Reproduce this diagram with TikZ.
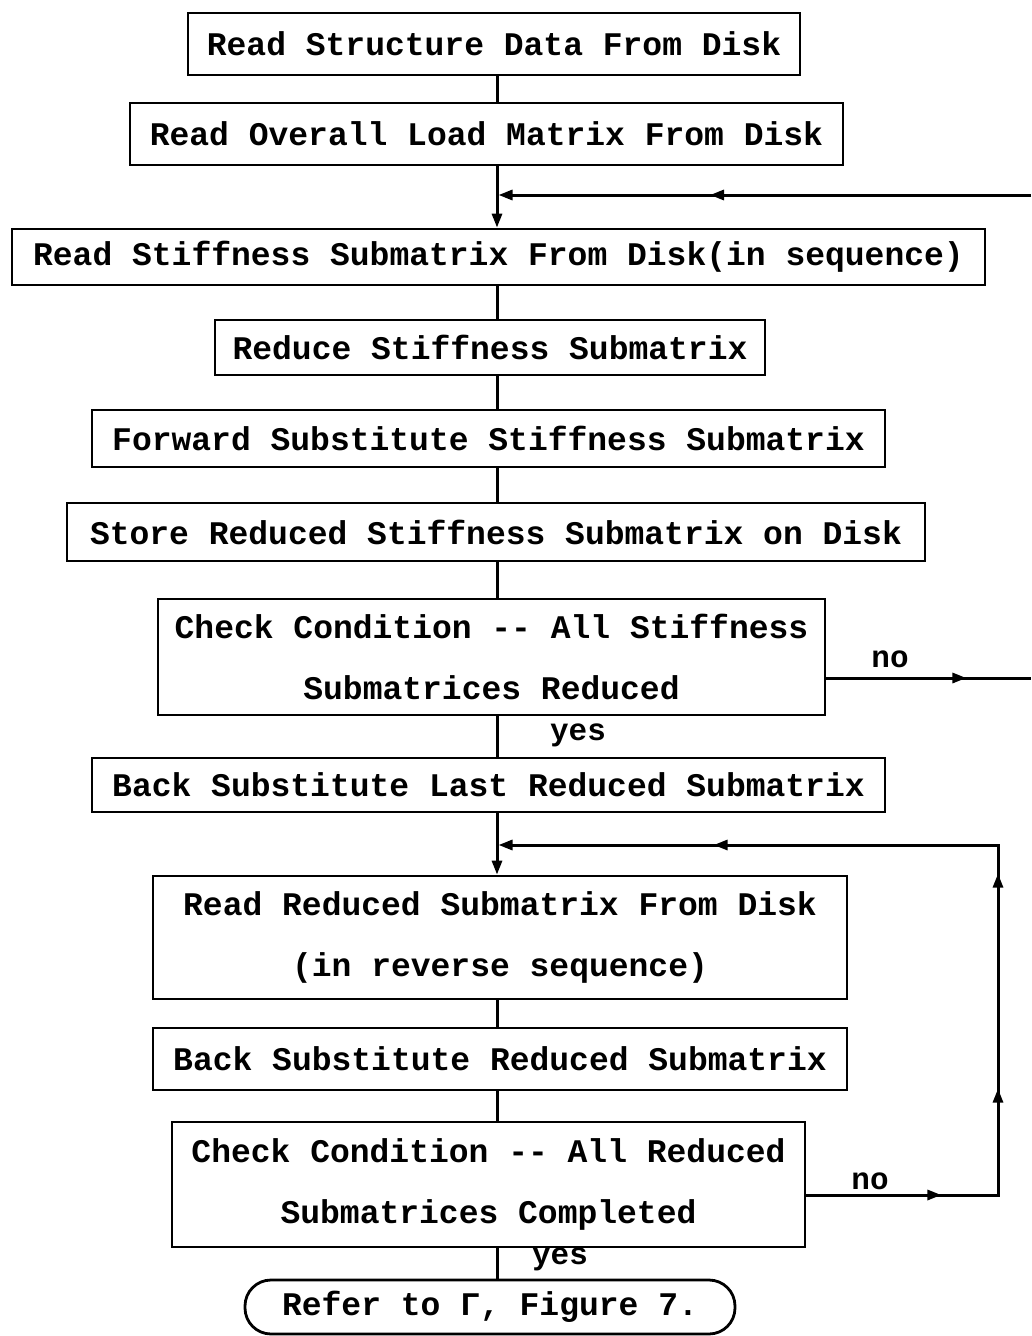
\documentclass[tikz,border=0pt]{standalone}
\usepackage{fontspec}
\setmonofont{Liberation Mono}
\usetikzlibrary{arrows.meta,decorations.markings}
\begin{document}
\begin{tikzpicture}[x=1pt,y=-1pt,
  box/.style={draw,line width=2.8pt,inner sep=0pt,align=center,
    font=\ttfamily\bfseries\fontsize{33}{61}\selectfont},
  conn/.style={line width=3pt},
  lbl/.style={font=\ttfamily\bfseries\fontsize{31}{36}\selectfont},
  tipend/.style={-{Triangle[length=14pt,width=10pt]}},
]
\useasboundingbox (0,0) rectangle (1031,1336);
\fill[white] (0,0) rectangle (1031,1336);

\node[box,minimum width=612pt,minimum height=62pt] (b1) at (494,44) {Read Structure Data From Disk};
\node[box,minimum width=713pt,minimum height=62pt] (b2) at (486.5,134) {Read Overall Load Matrix From Disk};
\node[box,minimum width=973pt,minimum height=56pt] (b3) at (498.5,257) {Read Stiffness Submatrix From Disk(in sequence)};
\node[box,minimum width=550pt,minimum height=55pt] (b4) at (490,347.5) {Reduce Stiffness Submatrix};
\node[box,minimum width=793pt,minimum height=57pt] (b5) at (488.5,438.5) {Forward Substitute Stiffness Submatrix};
\node[box,minimum width=858pt,minimum height=58pt] (b6) at (496,532) {Store Reduced Stiffness Submatrix on Disk};
\node[box,minimum width=667pt,minimum height=116pt] (b7) at (491.5,657) {Check Condition -{}- All Stiffness\\Submatrices Reduced};
\node[box,minimum width=793pt,minimum height=54pt] (b8) at (488.5,785) {Back Substitute Last Reduced Submatrix};
\node[box,minimum width=694pt,minimum height=123pt] (b9) at (500,937.5) {Read Reduced Submatrix From Disk\\(in reverse sequence)};
\node[box,minimum width=694pt,minimum height=62pt] (b10) at (500,1059) {Back Substitute Reduced Submatrix};
\node[box,minimum width=633pt,minimum height=125pt] (b11) at (488.5,1184.5) {Check Condition -{}- All Reduced\\Submatrices Completed};
\node[box,rounded corners=26pt,minimum width=490pt,minimum height=54pt] (t) at (490,1307) {Refer to Γ, Figure 7.};

\node[lbl] (no1) at (890,659) {no};
\node[lbl] (yes1) at (578,735) {yes};
\node[lbl] (no2) at (870,1181) {no};
\node[lbl] (yes2) at (560,1259) {yes};

\coordinate (tx) at (497,0);
\coordinate (j1) at (497,195);
\coordinate (e1) at (1031,195);
\coordinate (e2) at (1031,678);
\coordinate (k1) at (497,845);
\coordinate (k2) at (998,845);
\coordinate (k3) at (998,1195);

% trunk
\draw[conn] (b1.south -| tx) -- (b2.north -| tx);
\draw[conn,tipend] (b2.south -| tx) -- (b3.north -| tx);
\draw[conn] (b3.south -| tx) -- (b4.north -| tx);
\draw[conn] (b4.south -| tx) -- (b5.north -| tx);
\draw[conn] (b5.south -| tx) -- (b6.north -| tx);
\draw[conn] (b6.south -| tx) -- (b7.north -| tx);
\draw[conn] (b7.south -| tx) -- (b8.north -| tx);
\draw[conn,tipend] (b8.south -| tx) -- (b9.north -| tx);
\draw[conn] (b9.south -| tx) -- (b10.north -| tx);
\draw[conn] (b10.south -| tx) -- (b11.north -| tx);
\draw[conn] (b11.south -| tx) -- (t.north -| tx);

% loop 1
\draw[conn,tipend,shorten >=1.5pt,postaction={decorate},
  decoration={markings,mark=at position 321pt with {\arrow{Triangle[length=14pt,width=10pt]}}}]
  (e1) -- (j1);
\draw[conn,postaction={decorate},
  decoration={markings,mark=at position 140pt with {\arrow{Triangle[length=14pt,width=10pt]}}}]
  (b7.east |- e2) -- (e2);

% loop 2
\draw[conn,tipend,shorten >=1.5pt,postaction={decorate},
  decoration={markings,
    mark=at position 135pt with {\arrow{Triangle[length=14pt,width=10pt]}},
    mark=at position 298pt with {\arrow{Triangle[length=14pt,width=10pt]}},
    mark=at position 513pt with {\arrow{Triangle[length=14pt,width=10pt]}},
    mark=at position 826pt with {\arrow{Triangle[length=14pt,width=10pt]}}}]
  (b11.east |- k3) -- (k3) -- (k2) -- (k1);
\end{tikzpicture}
\end{document}
